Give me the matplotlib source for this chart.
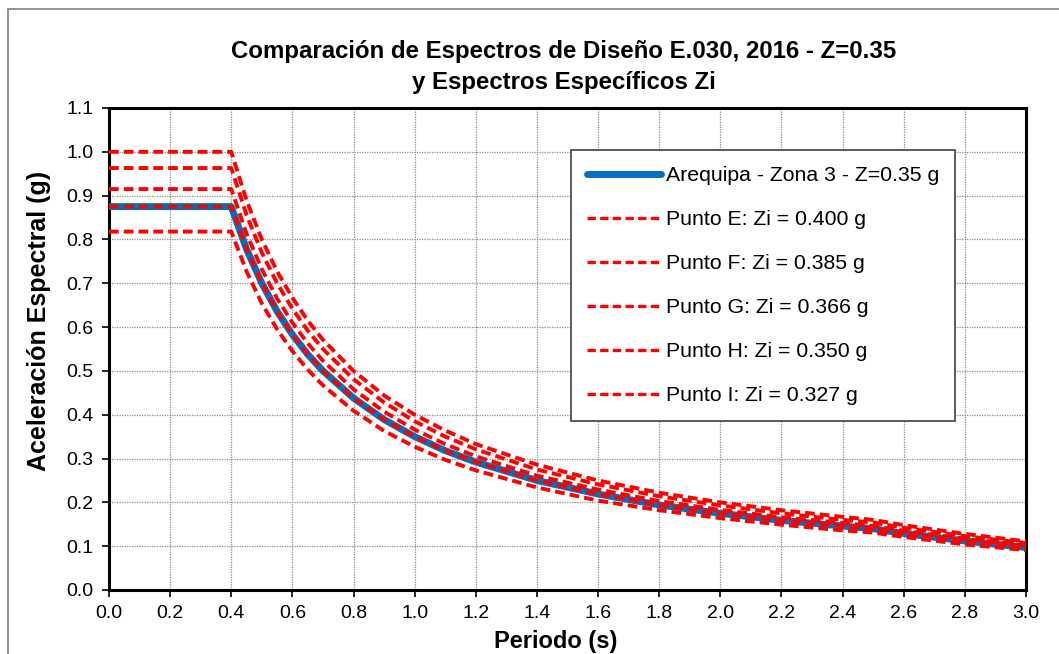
import matplotlib
matplotlib.use("Agg")
import matplotlib.pyplot as plt
from matplotlib.patches import Rectangle

plt.rcParams['font.family'] = ['Liberation Sans', 'DejaVu Sans']

# Periods (s)
periodos = [0.0, 0.4, 0.45, 0.5, 0.55, 0.6, 0.65, 0.7, 0.8, 0.9, 1.0, 1.1, 1.2,
            1.4, 1.6, 1.8, 2.0, 2.2, 2.4, 2.5, 2.6, 2.8, 3.0]

# Design spectrum E.030 (Arequipa, Z = 0.35)
sa_arequipa = [0.875, 0.875, 0.778, 0.700, 0.636, 0.583, 0.538, 0.500, 0.438, 0.389,
               0.350, 0.318, 0.292, 0.250, 0.219, 0.194, 0.175, 0.159, 0.146, 0.140,
               0.129, 0.112, 0.097]

# Site-specific spectra
sa_punto_e = [1.000, 1.000, 0.889, 0.800, 0.727, 0.667, 0.615, 0.571, 0.500, 0.444,
              0.400, 0.364, 0.333, 0.286, 0.250, 0.222, 0.200, 0.182, 0.167, 0.160,
              0.148, 0.128, 0.111]
sa_punto_f = [0.963, 0.963, 0.856, 0.770, 0.700, 0.642, 0.592, 0.550, 0.481, 0.428,
              0.385, 0.350, 0.321, 0.275, 0.241, 0.214, 0.193, 0.175, 0.160, 0.154,
              0.142, 0.123, 0.107]
sa_punto_g = [0.915, 0.915, 0.813, 0.732, 0.665, 0.610, 0.563, 0.523, 0.458, 0.407,
              0.366, 0.333, 0.305, 0.261, 0.229, 0.203, 0.183, 0.166, 0.153, 0.146,
              0.135, 0.117, 0.102]
sa_punto_h = [0.875, 0.875, 0.778, 0.700, 0.636, 0.583, 0.538, 0.500, 0.438, 0.389,
              0.350, 0.318, 0.292, 0.250, 0.219, 0.194, 0.175, 0.159, 0.146, 0.140,
              0.129, 0.112, 0.097]
sa_punto_i = [0.818, 0.818, 0.727, 0.654, 0.595, 0.545, 0.503, 0.467, 0.409, 0.363,
              0.327, 0.297, 0.273, 0.234, 0.204, 0.182, 0.164, 0.149, 0.136, 0.131,
              0.121, 0.104, 0.091]

etiqueta_diseno = "Arequipa - Zona 3 - Z=0.35 g"
etiquetas_puntos = ["Punto E: Zi = 0.400 g", "Punto F: Zi = 0.385 g",
                    "Punto G: Zi = 0.366 g", "Punto H: Zi = 0.350 g",
                    "Punto I: Zi = 0.327 g"]

xticks = [round(0.2 * i, 1) for i in range(16)]
yticks = [round(0.1 * i, 1) for i in range(12)]

W, H = 1059, 654
fig = plt.figure(figsize=(W / 100, H / 100), dpi=100)
ax = fig.add_axes([109 / W, 1 - 590 / H, (1026 - 109) / W, (590 - 108) / H])

# outer chart frame
fig.patches.append(Rectangle((8 / W, -0.2), 1.2, 1.2 - 9 / H,
                             transform=fig.transFigure, fill=False,
                             edgecolor='#808080', linewidth=1.2))

ax.plot(periodos, sa_arequipa, color='#0070C0', linewidth=5,
        solid_capstyle='round', label=etiqueta_diseno, zorder=3)
for serie, lab in zip([sa_punto_e, sa_punto_f, sa_punto_g, sa_punto_h, sa_punto_i],
                      etiquetas_puntos):
    ax.plot(periodos, serie, color='#FF0000', linewidth=2.8,
            linestyle=(0, (2.5, 1.3)), label=lab, zorder=4)

ax.set_xlim(0, 3.0)
ax.set_ylim(0, 1.1)
ax.set_xticks(xticks)
ax.set_yticks(yticks)
ax.set_xticklabels([f"{v:.1f}" for v in xticks])
ax.set_yticklabels([f"{v:.1f}" for v in yticks])
ax.tick_params(axis='both', direction='out', length=5, width=1.2,
               labelsize=14, pad=6, colors='black')
ax.grid(True, color='#8c8c8c', linestyle=(0, (1, 1)), linewidth=0.9)
ax.set_axisbelow(True)
for s in ax.spines.values():
    s.set_linewidth(2.2)
    s.set_color('black')

ax.set_xlabel("Periodo (s)", fontsize=17, fontweight='bold')
ax.xaxis.set_label_coords(0.487, -0.083)
ax.set_ylabel("Aceleración Espectral (g)", fontsize=18, fontweight='bold')
ax.yaxis.set_label_coords(-0.0765, 0.558)
ax.yaxis.label.set_verticalalignment('center')
ax.set_title("Comparación de Espectros de Diseño E.030, 2016 - Z=0.35\n"
             "y Espectros Específicos Zi", fontsize=17.3, fontweight='bold',
             pad=14, linespacing=1.4, x=0.496)

leg = ax.legend(loc='upper left', bbox_to_anchor=(571 / W, 1 - 150 / H),
                bbox_transform=fig.transFigure, fontsize=15.3, frameon=True,
                fancybox=False, edgecolor='#404040', framealpha=1,
                handlelength=3.5, handletextpad=0.22, labelspacing=1.18,
                borderpad=0.75, borderaxespad=0)
leg.get_frame().set_linewidth(1.2)
for h in leg.get_lines()[1:]:
    h.set_linewidth(2.4)

fig.savefig("out.png", dpi=100)
